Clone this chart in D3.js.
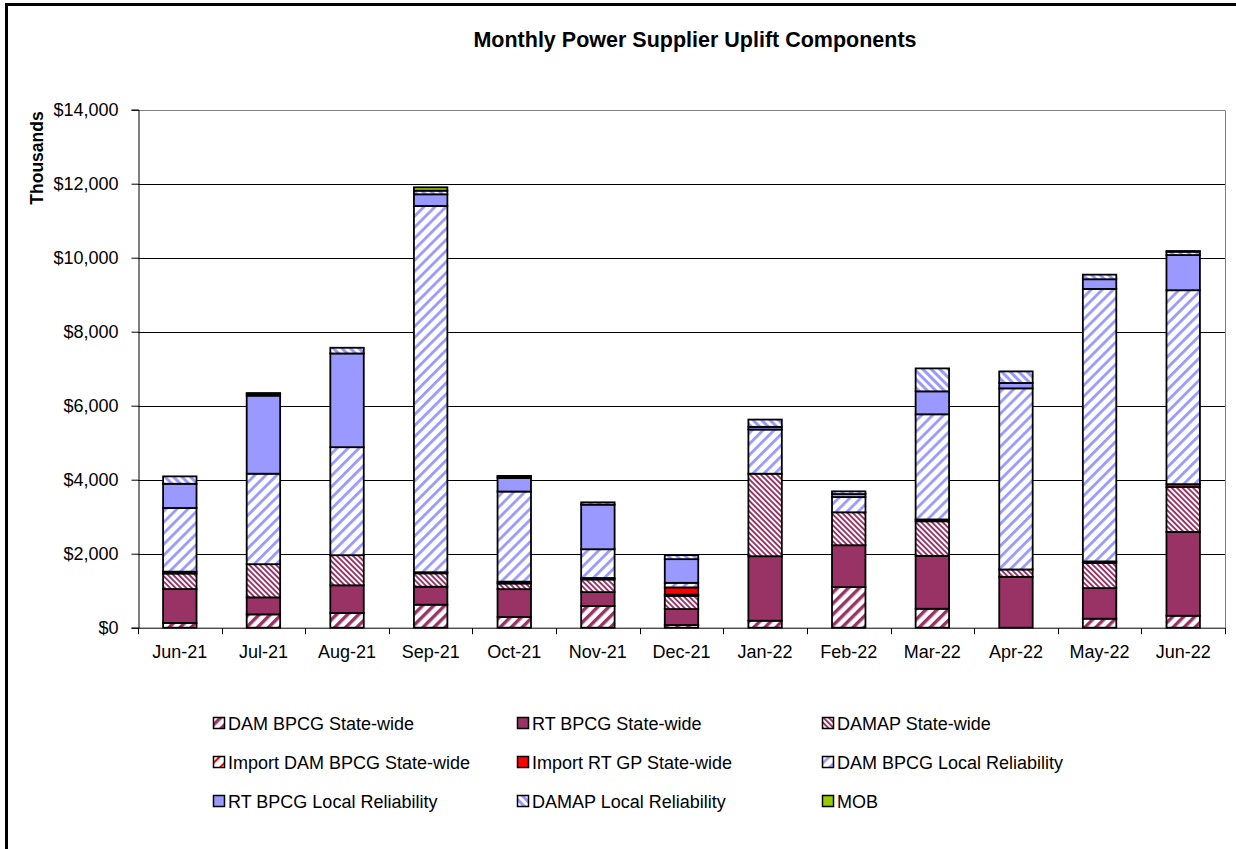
<!DOCTYPE html>
<html>
<head>
<meta charset="utf-8">
<script src="https://cdn.jsdelivr.net/npm/d3@7"></script>
<style>
  body { margin: 0; background: #fff; }
  svg { display: block; }
  text { font-family: "Liberation Sans", Arial, sans-serif; fill: #000; }
</style>
</head>
<body>
<svg id="chart" width="1236" height="849"></svg>
<script>
// Monthly uplift components, $ thousands
const months = ["Jun-21","Jul-21","Aug-21","Sep-21","Oct-21","Nov-21","Dec-21",
                "Jan-22","Feb-22","Mar-22","Apr-22","May-22","Jun-22"];

const damBpcgStatewide       = [130, 360, 397, 622, 287, 585,  72,  189, 1097,  512,    0,  243,  323];
const rtBpcgStatewide        = [915, 460, 749, 486, 755, 377, 432, 1743, 1132, 1429, 1375,  827, 2265];
const damapStatewide         = [420, 897, 814, 362, 153, 342, 359, 2230,  890,  935,  199,  682, 1212];
const importDamBpcgStatewide = [ 50,   0,   0,  30,  50,  40,  30,    0,    0,    0,    0,   40,    0];
const importRtGpStatewide    = [  0,   0,   0,   0,   0,   0, 196,    0,    0,   50,    0,    0,   80];
const damBpcgLocal           = [1720, 2445, 2919, 9897, 2435, 777, 124, 1194, 412, 2842, 4895, 7364, 5241];
const rtBpcgLocal            = [655, 2110, 2533, 317, 368, 1205, 640,   73,   81,  620,  145,  262,  951];
const damapLocal             = [200,  50, 154,  97,  40,  62, 107,  196,   73,  620,  313,  124,   89];
const mob                    = [  0,  20,   0,  92,  14,   0,   0,    0,    0,    0,    0,    0,   20];

const seriesNames = ["DAM BPCG State-wide","RT BPCG State-wide","DAMAP State-wide",
  "Import DAM BPCG State-wide","Import RT GP State-wide","DAM BPCG Local Reliability",
  "RT BPCG Local Reliability","DAMAP Local Reliability","MOB"];
const seriesValues = [damBpcgStatewide, rtBpcgStatewide, damapStatewide, importDamBpcgStatewide,
  importRtGpStatewide, damBpcgLocal, rtBpcgLocal, damapLocal, mob];

const yTicks = [0, 2000, 4000, 6000, 8000, 10000, 12000, 14000];

const MAROON = "#993366", BLUE = "#9999FF", RED = "#FF0000", GREEN = "#99CC00";

const svg = d3.select("#chart");
const defs = svg.append("defs");

// diagonal stripe fills (angle 45 => "/", -45 => "\")
function stripes(id, color, period, width, angle) {
  const p = defs.append("pattern")
    .attr("id", id)
    .attr("patternUnits", "userSpaceOnUse")
    .attr("width", period).attr("height", period)
    .attr("patternTransform", `rotate(${angle})`);
  p.append("rect").attr("width", period).attr("height", period).attr("fill", "#fff");
  p.append("rect").attr("width", width).attr("height", period).attr("fill", color);
}
stripes("pDamSw", MAROON, 7.8, 3.4, 45);
stripes("pDamapSw", MAROON, 3.8, 1.9, -45);
stripes("pImpDam", RED, 7.8, 2, 45);
stripes("pDamLocal", BLUE, 7.8, 2.8, 45);
stripes("pDamapLocal", BLUE, 6, 3, -45);

const fills = ["url(#pDamSw)", MAROON, "url(#pDamapSw)", "url(#pImpDam)", RED,
               "url(#pDamLocal)", BLUE, "url(#pDamapLocal)", GREEN];

// outer chart frame (left and top edges are visible)
svg.append("path")
  .attr("d", "M6.5,849 V4.5 H1236")
  .attr("fill", "none").attr("stroke", "#000").attr("stroke-width", 3);

const plot = { left: 138, right: 1225, top: 109.7, bottom: 627.7 };

const x = d3.scaleBand().domain(months)
  .range([plot.left, plot.right]).paddingInner(0.6).paddingOuter(0.3);
const y = d3.scaleLinear().domain([0, 14000]).range([plot.bottom, plot.top]);

// gridlines
svg.append("g").selectAll("line").data(yTicks.filter(d => d > 0)).join("line")
  .attr("x1", plot.left).attr("x2", plot.right)
  .attr("y1", d => Math.round(y(d)) + 0.5).attr("y2", d => Math.round(y(d)) + 0.5)
  .attr("stroke", d => d === 14000 ? "#808080" : "#000").attr("stroke-width", 1);

// plot-area right edge
svg.append("line")
  .attr("x1", plot.right + 0.5).attr("x2", plot.right + 0.5)
  .attr("y1", Math.round(plot.top) + 0.5).attr("y2", plot.bottom)
  .attr("stroke", "#808080");

// stacked bars
const rows = months.map((m, i) => {
  const r = { month: m };
  seriesNames.forEach((s, k) => r[s] = seriesValues[k][i]);
  return r;
});
const stacked = d3.stack().keys(seriesNames)(rows);

svg.append("g").selectAll("g").data(stacked).join("g")
  .attr("fill", (d, k) => fills[k])
  .selectAll("rect").data(d => d.filter(p => p[1] - p[0] > 0)).join("rect")
  .attr("x", d => x(d.data.month))
  .attr("width", x.bandwidth())
  .attr("y", d => y(d[1]))
  .attr("height", d => y(d[0]) - y(d[1]))
  .attr("stroke", "#000").attr("stroke-width", 1.8);

// y axis
const yAxis = svg.append("g")
  .attr("transform", `translate(${plot.left + 0.5},0)`)
  .call(d3.axisLeft(y).tickValues(yTicks).tickSize(7).tickPadding(13)
    .tickFormat(d => "$" + d3.format(",")(d)));
yAxis.select(".domain").attr("stroke", "#000");
yAxis.selectAll(".tick line").attr("stroke", "#000");
yAxis.selectAll(".tick text")
  .style("font-family", '"Liberation Sans", Arial, sans-serif')
  .style("font-size", "18px").attr("fill", "#000");

// x axis with ticks between categories
const xAxisG = svg.append("g").attr("transform", `translate(0,${plot.bottom + 0.5})`);
xAxisG.append("line").attr("x1", plot.left).attr("x2", plot.right + 1)
  .attr("stroke", "#000");
const step = x.step();
xAxisG.selectAll("line.tk").data(d3.range(months.length + 1)).join("line")
  .attr("class", "tk")
  .attr("x1", i => Math.round(plot.left + i * step) + 0.5)
  .attr("x2", i => Math.round(plot.left + i * step) + 0.5)
  .attr("y1", 0).attr("y2", 6).attr("stroke", "#000");
xAxisG.selectAll("text").data(months).join("text")
  .attr("x", d => x(d) + x.bandwidth() / 2)
  .attr("y", 30)
  .attr("text-anchor", "middle")
  .style("font-size", "18px")
  .text(d => d);

// title
svg.append("text")
  .attr("x", 695).attr("y", 47)
  .attr("text-anchor", "middle")
  .style("font-size", "21.5px").style("font-weight", "bold")
  .text("Monthly Power Supplier Uplift Components");

// y-axis title
svg.append("text")
  .attr("transform", "translate(43,158) rotate(-90)")
  .attr("text-anchor", "middle")
  .style("font-size", "17.5px").style("font-weight", "bold")
  .text("Thousands");

// legend: 3 columns x 3 rows
const legX = [213, 517, 822], legY = [723, 762, 801];
const leg = svg.append("g").selectAll("g").data(seriesNames).join("g")
  .attr("transform", (d, k) => `translate(${legX[k % 3]},${legY[Math.floor(k / 3)]})`);
leg.append("rect")
  .attr("x", 0.5).attr("y", -5.5).attr("width", 11).attr("height", 11)
  .attr("fill", (d, k) => fills[k]).attr("stroke", "#000").attr("stroke-width", 1.5);
leg.append("text")
  .attr("x", 15).attr("y", 6.5)
  .style("font-size", "18px")
  .text(d => d);
</script>
</body>
</html>
